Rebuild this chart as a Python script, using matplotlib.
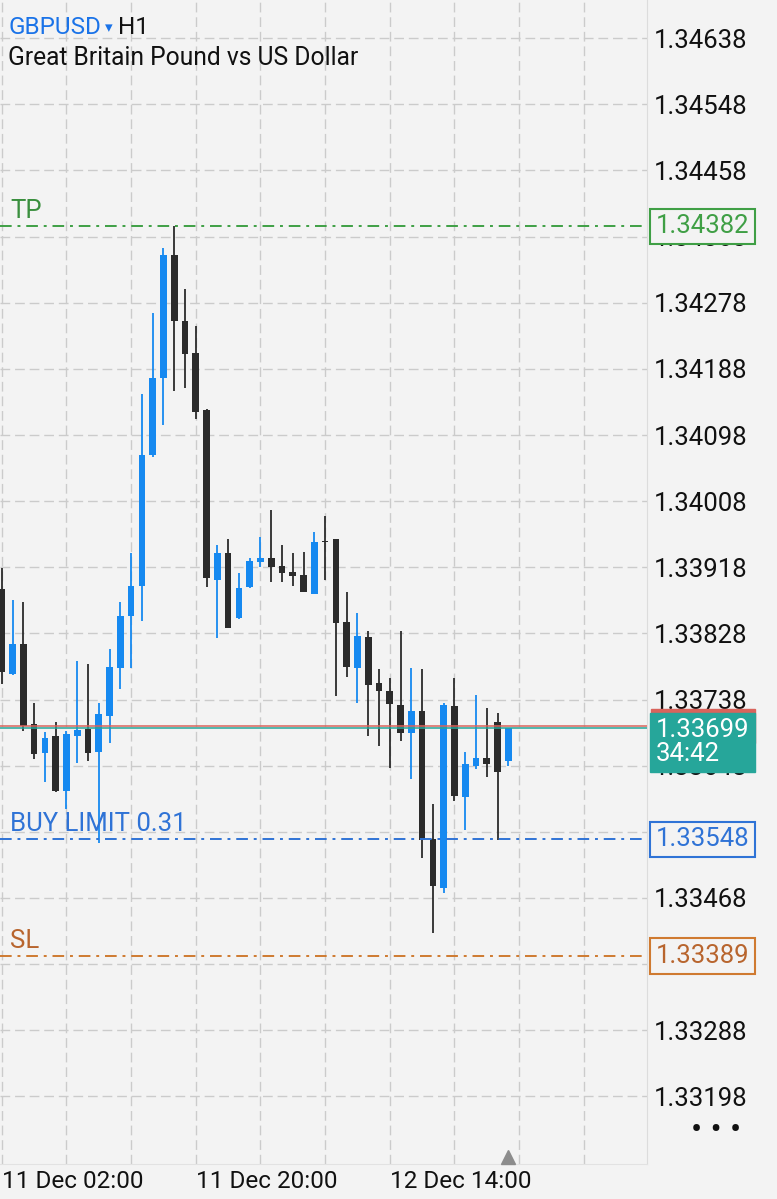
import numpy as np
import matplotlib
matplotlib.use("Agg")
import matplotlib.pyplot as plt
from matplotlib.transforms import blended_transform_factory

plt.rcParams['font.family'] = ['Roboto', 'DejaVu Sans']

# GBPUSD H1, 11 Dec 02:00 -> 12 Dec 17:00 (one candle per hour)
open_ = [1.33888, 1.33773, 1.33813, 1.33705, 1.33665, 1.33688, 1.33614, 1.33688,
         1.33698, 1.33666, 1.33716, 1.33781, 1.33852, 1.33892, 1.34071, 1.34176,
         1.34343, 1.34253, 1.34209, 1.34132, 1.33901, 1.33937, 1.33849, 1.33891,
         1.33925, 1.33930, 1.33920, 1.33912, 1.33907, 1.33882, 1.33953, 1.33956,
         1.33844, 1.33781, 1.33823, 1.33760, 1.33749, 1.33731, 1.33693, 1.33722,
         1.33548, 1.33482, 1.33729, 1.33606, 1.33648, 1.33658, 1.33707, 1.33655]
high = [1.33917, 1.33874, 1.33871, 1.33734, 1.33694, 1.33707, 1.33695, 1.33790,
        1.33787, 1.33733, 1.33807, 1.33871, 1.33938, 1.34154, 1.34264, 1.34353,
        1.34382, 1.34297, 1.34247, 1.34134, 1.33948, 1.33957, 1.33910, 1.33931,
        1.33959, 1.33996, 1.33948, 1.33938, 1.33939, 1.33966, 1.33988, 1.33956,
        1.33884, 1.33856, 1.33831, 1.33780, 1.33768, 1.33832, 1.33781, 1.33780,
        1.33596, 1.33734, 1.33767, 1.33666, 1.33744, 1.33726, 1.33720, 1.33700]
low = [1.33759, 1.33772, 1.33695, 1.33657, 1.33626, 1.33612, 1.33589, 1.33652,
       1.33654, 1.33543, 1.33679, 1.33752, 1.33781, 1.33845, 1.34068, 1.34112,
       1.34158, 1.34162, 1.34120, 1.33891, 1.33822, 1.33836, 1.33848, 1.33890,
       1.33918, 1.33898, 1.33898, 1.33892, 1.33884, 1.33882, 1.33901, 1.33743,
       1.33769, 1.33733, 1.33688, 1.33675, 1.33645, 1.33682, 1.33630, 1.33523,
       1.33421, 1.33475, 1.33600, 1.33561, 1.33643, 1.33633, 1.33547, 1.33648]
close = [1.33775, 1.33814, 1.33702, 1.33664, 1.33686, 1.33613, 1.33691, 1.33697,
         1.33665, 1.33718, 1.33782, 1.33852, 1.33892, 1.34071, 1.34176, 1.34343,
         1.34253, 1.34208, 1.34130, 1.33903, 1.33938, 1.33836, 1.33890, 1.33927,
         1.33931, 1.33919, 1.33910, 1.33906, 1.33884, 1.33952, 1.33952, 1.33842,
         1.33782, 1.33824, 1.33758, 1.33749, 1.33732, 1.33692, 1.33722, 1.33547,
         1.33484, 1.33731, 1.33607, 1.33650, 1.33659, 1.33651, 1.33639, 1.33699]

price_ticks = [1.34638, 1.34548, 1.34458, 1.34368, 1.34278, 1.34188, 1.34098,
               1.34008, 1.33918, 1.33828, 1.33738, 1.33648, 1.33558, 1.33468,
               1.33378, 1.33288, 1.33198]
time_labels = ['11 Dec 02:00', '', '', '11 Dec 20:00', '', '', '12 Dec 14:00', '', '', '']

tp = 1.34382
buy_limit = 1.33548
sl = 1.33389
bid = 1.33699
ask = 1.33702
countdown = '34:42'

bg = '#f3f3f3'
up_c = '#1689f0'
dn_c = '#2b2b2b'
tp_c = '#3f9f45'
bl_c = '#2f73d6'
sl_c = '#cf7a30'
teal = '#26a69a'
grid_c = '#cbcbcb'
fs = 18.5

W, H = 777, 1199
fig = plt.figure(figsize=(W / 100, H / 100), dpi=100, facecolor=bg)
ax = fig.add_axes([0, 35 / H, 647 / W, 1164 / H], facecolor=bg)

o = np.array(open_)
c = np.array(close)
x = np.arange(len(o))
up = c >= o
colors = np.where(up, up_c, dn_c)

ax.vlines(x, low, high, colors=colors, lw=1.3, zorder=3)
body_h = np.maximum(np.abs(c - o), 0.000012)
ax.bar(x, body_h, bottom=np.minimum(o, c), width=0.62, color=colors, lw=0, zorder=4)

ax.set_xlim(-0.16, 59.86)
ax.set_ylim(1.33106, 1.34690)

# grid
ax.set_xticks(np.arange(0, 60, 6))
ax.set_xticklabels(time_labels, ha='left', fontsize=17.5)
ax.set_yticks(price_ticks)
ax.set_yticklabels(['%.5f' % p for p in price_ticks], fontsize=fs)
ax.yaxis.tick_right()
ax.tick_params(axis='both', length=0, colors='#111111')
ax.tick_params(axis='y', pad=5)
ax.tick_params(axis='x', pad=4)
ax.grid(True, color=grid_c, lw=1, linestyle=(0, (7, 3.5)), zorder=1)
ax.set_axisbelow(True)

for s in ['top', 'left']:
    ax.spines[s].set_visible(False)
ax.spines['right'].set_color('#dcdcdc')
ax.spines['bottom'].set_color('#e2e2e2')

# order levels
dashdot = (0, (6, 3, 1.5, 3))
ax.axhline(tp, color=tp_c, lw=1.4, linestyle=dashdot, zorder=5)
ax.axhline(buy_limit, color=bl_c, lw=1.4, linestyle=dashdot, zorder=5)
ax.axhline(sl, color=sl_c, lw=1.4, linestyle=dashdot, zorder=5)
ax.axhline(ask, color='#d9645c', lw=1.1, zorder=5)
ax.axhline(bid, color=teal, lw=1.1, zorder=5)

lt = blended_transform_factory(ax.transAxes, ax.transData)
ax.annotate('TP', (0, tp), xycoords=lt, xytext=(10, 3), textcoords='offset pixels',
            color='#3a8f3e', fontsize=fs, va='bottom')
ax.annotate('BUY LIMIT 0.31', (0, buy_limit), xycoords=lt, xytext=(10, 3),
            textcoords='offset pixels', color=bl_c, fontsize=fs, va='bottom')
ax.annotate('SL', (0, sl), xycoords=lt, xytext=(10, 3), textcoords='offset pixels',
            color='#b8652e', fontsize=fs, va='bottom')

# price boxes on the right scale
for val, col, txtc in [(tp, tp_c, '#3f9f45'), (buy_limit, bl_c, bl_c), (sl, sl_c, '#b8652e')]:
    ax.annotate('%.5f' % val, (1, val), xycoords=lt, xytext=(9, 0),
                textcoords='offset pixels', va='center', ha='left', fontsize=fs,
                color=txtc, zorder=8, annotation_clip=False,
                bbox=dict(boxstyle='square,pad=0.22', fc=bg, ec=col, lw=1.5))

ax.annotate('%.5f' % ask, (1, ask), xycoords=lt, xytext=(9, 0),
            textcoords='offset pixels', va='center', ha='left', fontsize=fs,
            color='white', zorder=7, annotation_clip=False,
            bbox=dict(boxstyle='square,pad=0.2', fc='#d9645c', ec='#d9645c'))
ax.annotate('%.5f\n%s' % (bid, countdown), (1, bid), xycoords=lt, xytext=(9, 10),
            textcoords='offset pixels', va='top', ha='left', fontsize=fs,
            color='white', zorder=9, annotation_clip=False, linespacing=1.0,
            bbox=dict(boxstyle='square,pad=0.22', fc=teal, ec=teal))

# marker under the last candle
bt = blended_transform_factory(ax.transData, ax.transAxes)
ax.plot([x[-1]], [0.006], marker='^', ms=10, color='#8c8c8c', transform=bt,
        clip_on=False, zorder=10)

# header
fig.text(8 / W, 1 - 28 / H, 'GBPUSD', color='#1a73e8', fontsize=17.5, va='center')
fig.text(105 / W, 1 - 28 / H, '▾', color='#1a73e8', fontsize=11, va='center',
         family='DejaVu Sans')
fig.text(118 / W, 1 - 28 / H, 'H1', color='#111111', fontsize=17.5, va='center')
fig.text(8 / W, 1 - 58 / H, 'Great Britain Pound vs US Dollar', color='#111111',
         fontsize=17.7, va='center')
fig.text(716 / W, 1 - 1131 / H, '• • •', color='#111111', fontsize=24,
         ha='center', va='center')

fig.savefig('out.png', dpi=100, facecolor=bg)
